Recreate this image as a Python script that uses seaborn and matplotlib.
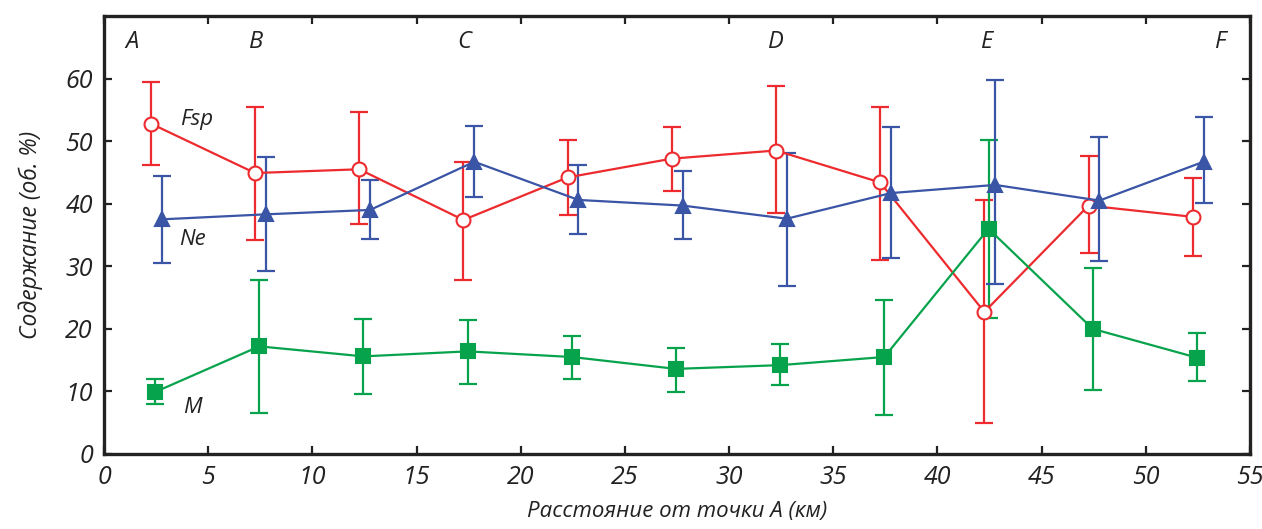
import numpy as np
import pandas as pd
import matplotlib
matplotlib.use("Agg")
import matplotlib.pyplot as plt
import seaborn as sns

# Sampling stations (km from point A), one per 5 km segment
stations = [2.5, 7.5, 12.5, 17.5, 22.5, 27.5, 32.5, 37.5, 42.5, 47.5, 52.5]

# Fsp (feldspar) mean, upper and lower bounds
fsp_mean = [52.8, 44.9, 45.5, 37.4, 44.2, 47.2, 48.5, 43.4, 22.7, 39.7, 37.9]
fsp_hi = [59.5, 55.5, 54.6, 46.7, 50.2, 52.2, 58.8, 55.5, 40.6, 47.6, 44.1]
fsp_lo = [46.2, 34.2, 36.8, 27.8, 38.2, 42.1, 38.5, 31.0, 5.0, 32.1, 31.7]

# Ne (nepheline)
ne_mean = [37.5, 38.3, 39.0, 46.7, 40.6, 39.7, 37.6, 41.7, 43.0, 40.5, 46.7]
ne_hi = [44.5, 47.5, 43.8, 52.4, 46.2, 45.2, 48.1, 52.3, 59.7, 50.6, 53.9]
ne_lo = [30.6, 29.3, 34.4, 41.1, 35.1, 34.3, 26.9, 31.3, 27.1, 30.8, 40.1]

# M (mafic minerals)
m_mean = [9.9, 17.2, 15.6, 16.4, 15.5, 13.6, 14.2, 15.5, 36.0, 20.0, 15.4]
m_hi = [12.0, 27.8, 21.5, 21.4, 18.9, 16.9, 17.6, 24.6, 50.2, 29.7, 19.3]
m_lo = [8.0, 6.5, 9.6, 11.2, 12.0, 9.9, 11.0, 6.3, 21.7, 10.2, 11.6]

point_names = ["A", "B", "C", "D", "E", "F"]
point_km = [1.35, 7.3, 17.3, 32.25, 42.4, 53.6]

RED = "#ED2A2E"
BLUE = "#3A54A6"
GREEN = "#07A34C"

sns.set_style("ticks")
plt.rcParams["font.family"] = ["Open Sans", "DejaVu Sans"]
plt.rcParams["font.style"] = "italic"

fig = plt.figure(figsize=(12.62, 5.29), dpi=100)
ax = fig.add_axes([0.0824, 0.1418, 0.9081, 0.828])

series = [
    ("Fsp", -0.25, fsp_mean, fsp_hi, fsp_lo, RED, "o", "white"),
    ("M", -0.05, m_mean, m_hi, m_lo, GREEN, "s", GREEN),
    ("Ne", 0.27, ne_mean, ne_hi, ne_lo, BLUE, "^", BLUE),
]

for name, shift, mean, hi, lo, col, mk, face in series:
    xs = np.array(stations) + shift
    mean = np.array(mean)
    yerr = [mean - np.array(lo), np.array(hi) - mean]
    ax.errorbar(xs, mean, yerr=yerr, fmt="none", ecolor=col, elinewidth=1.6,
                capsize=6.5, capthick=1.6, zorder=2)
    df = pd.DataFrame({"x": xs, "y": mean})
    sns.lineplot(data=df, x="x", y="y", ax=ax, color=col, linewidth=1.6,
                 marker=mk, markersize=10 if mk == "o" else 9.5,
                 markerfacecolor=face, markeredgecolor=col, markeredgewidth=1.5,
                 sort=False, zorder=3)

# series labels
ax.text(4.45, 53.4, "Fsp", fontsize=16, ha="center", va="center", color="#222222")
ax.text(4.25, 34.2, "Ne", fontsize=16, ha="center", va="center", color="#222222")
ax.text(4.25, 7.5, "M", fontsize=16, ha="center", va="center", color="#222222")

for name, km in zip(point_names, point_km):
    ax.text(km, 65.8, name, fontsize=17, ha="center", va="center", color="#222222")

ax.set_xlim(0, 55)
ax.set_ylim(0, 70)
ax.set_xticks(np.arange(0, 56, 5))
ax.set_yticks(np.arange(0, 61, 10))
ax.tick_params(direction="in", length=6, width=1.6, top=True, right=True,
               labelsize=18, colors="#222222")
ax.tick_params(axis="x", labeltop=False, pad=8)
ax.tick_params(axis="y", labelright=False, pad=8)
for sp in ax.spines.values():
    sp.set_linewidth(2.4)
    sp.set_color("#222222")

ax.set_xlabel("Расстояние от точки A (км)", fontsize=16, labelpad=8, color="#222222")
ax.set_ylabel("Содержание (об. %)", fontsize=16.5, labelpad=16, color="#222222")

fig.savefig("out.png", dpi=100)
